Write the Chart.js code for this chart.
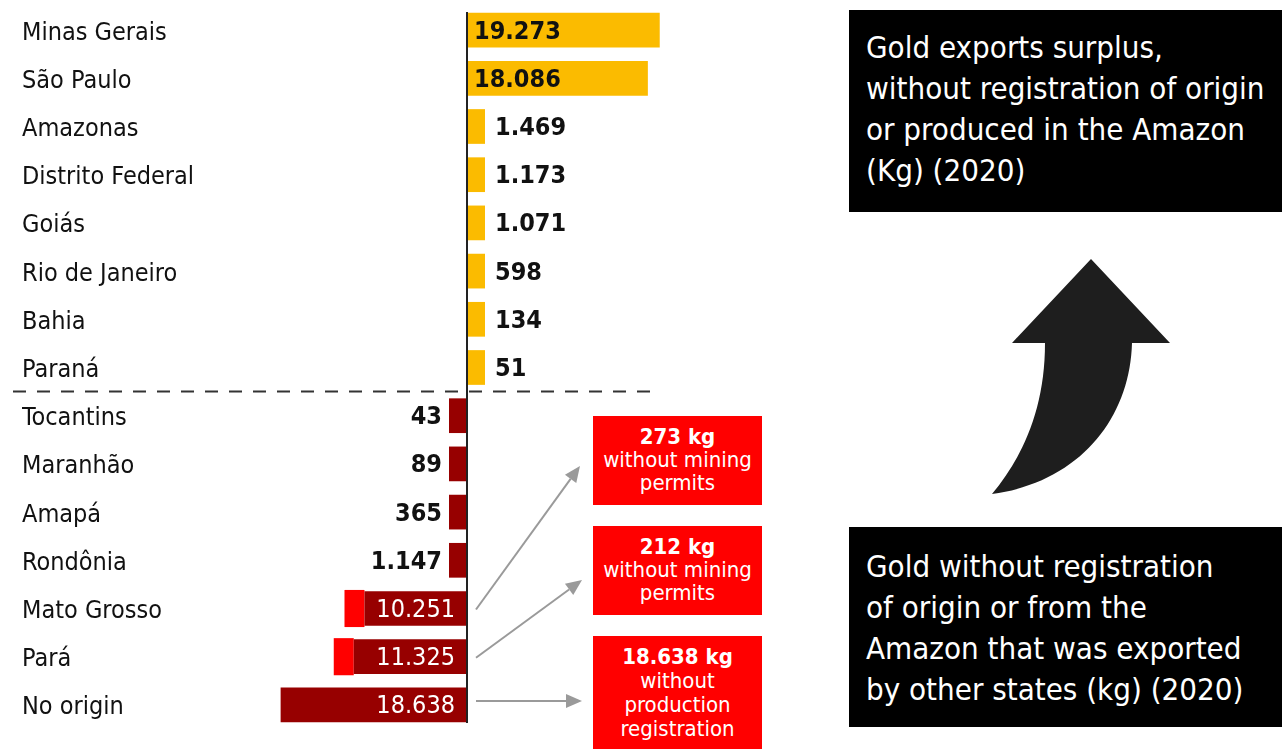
<!DOCTYPE html>
<html>
<head>
<meta charset="utf-8">
<script src="https://cdn.jsdelivr.net/npm/chart.js@4/dist/chart.umd.min.js"></script>
<style>
  html, body { margin: 0; padding: 0; background: #fff; overflow: hidden; }
  body { width: 1282px; height: 749px; position: relative; font-family: 'Liberation Sans Narrow', 'DejaVu Sans Condensed', Roboto, sans-serif; }
  .chart-wrap { position: absolute; left: 0; top: 0; width: 690px; height: 749px; }
  .note-black { position: absolute; left: 849px; width: 416px; background: #000; color: #fff;
    font-size: 31px; line-height: 41px; padding-left: 17px; box-sizing: content-box; }
  .note-red { position: absolute; left: 593px; width: 169px; background: #ff0000; color: #fff;
    font-size: 22px; line-height: 23px; text-align: center; }
  .note-red b { font-weight: bold; }
  svg.deco { position: absolute; left: 0; top: 0; pointer-events: none; }
</style>
</head>
<body>
<div class="chart-wrap"><canvas id="chart-gold"></canvas></div>

<div class="note-black" style="top:10px;height:185px;padding-top:17px">Gold exports surplus,<br>without registration of origin<br>or produced in the Amazon<br>(Kg) (2020)</div>
<div class="note-black" style="top:527px;height:181px;padding-top:19px">Gold without registration<br>of origin or from the<br>Amazon that was exported<br>by other states (kg) (2020)</div>

<div class="note-red" style="top:416px;height:80px;padding-top:9px"><b>273 kg</b><br>without mining<br>permits</div>
<div class="note-red" style="top:526px;height:80px;padding-top:9px"><b>212 kg</b><br>without mining<br>permits</div>
<div class="note-red" style="top:636px;height:104px;padding-top:9px;line-height:24px"><b>18.638 kg</b><br>without<br>production<br>registration</div>

<svg class="deco" width="1282" height="749">
  <path d="M1012 343 L1091 259 L1170 343 L1132 343 C1130 418 1080 482 992 494 C1022 458 1045 410 1045 343 Z" fill="#1e1e1e"/>
</svg>

<script>
const states = ['Minas Gerais', 'São Paulo', 'Amazonas', 'Distrito Federal', 'Goiás', 'Rio de Janeiro', 'Bahia', 'Paraná',
  'Tocantins', 'Maranhão', 'Amapá', 'Rondônia', 'Mato Grosso', 'Pará', 'No origin']
// kg, positive = surplus exported, negative = gold that left the state without origin
const surplusKg = [19273, 18086, 1469, 1173, 1071, 598, 134, 51, -43, -89, -365, -1147, -10251, -11325, -18638]
const noPermitKg = [null, null, null, null, null, null, null, null, null, null, null, null, -273, -212, null]
const lastSurplusIdx = 7

const FONT = "'Liberation Sans Narrow', 'DejaVu Sans Condensed', Roboto, sans-serif"
const fmt = v => Math.abs(v).toLocaleString('de-DE')

const annotPlugin = {
  id: 'annot',
  afterDatasetsDraw(chart) {
    const { ctx, scales: { x, y } } = chart
    const zero = x.getPixelForValue(0)
    const meta = chart.getDatasetMeta(0)

    // value labels
    ctx.save()
    ctx.textBaseline = 'middle'
    meta.data.forEach((bar, i) => {
      const v = surplusKg[i]
      const len = Math.abs(bar.x - bar.base)
      const txt = fmt(v)
      const ty = bar.y + 2
      if (v > 0) {
        ctx.font = 'bold 25px ' + FONT
        ctx.fillStyle = '#111'
        ctx.textAlign = 'left'
        if (len > 100) ctx.fillText(txt, zero + 7, ty)
        else ctx.fillText(txt, bar.x + 10, ty)
      } else {
        ctx.textAlign = 'right'
        if (len > 90) {
          ctx.font = '25px ' + FONT
          ctx.fillStyle = '#fff'
          ctx.fillText(txt, zero - 12, ty)
        } else {
          ctx.font = 'bold 25px ' + FONT
          ctx.fillStyle = '#111'
          ctx.fillText(txt, bar.x - 7, ty)
        }
      }
    })
    ctx.restore()

    // zero line
    ctx.save()
    ctx.strokeStyle = '#222'
    ctx.lineWidth = 2
    ctx.beginPath()
    ctx.moveTo(zero, 12)
    ctx.lineTo(zero, 723)
    ctx.stroke()

    // dashed separator between the two groups
    const sepY = (y.getPixelForValue(lastSurplusIdx) + y.getPixelForValue(lastSurplusIdx + 1)) / 2
    ctx.setLineDash([13, 11])
    ctx.strokeStyle = '#333'
    ctx.beginPath()
    ctx.moveTo(13, sepY)
    ctx.lineTo(656, sepY)
    ctx.stroke()
    ctx.restore()

    // grey pointers to the red notes
    const pointers = [[12, 580, 466], [13, 582, 580], [14, 582, 701]]
    ctx.save()
    ctx.strokeStyle = '#9a9a9a'
    ctx.fillStyle = '#9a9a9a'
    ctx.lineWidth = 2
    pointers.forEach(([idx, tx, ty]) => {
      const sx = zero + 9
      const sy = y.getPixelForValue(idx) + (idx === 14 ? -4 : 1)
      const ang = Math.atan2(ty - sy, tx - sx)
      const hl = 16, hw = 7
      const bx = tx - hl * Math.cos(ang), by = ty - hl * Math.sin(ang)
      ctx.beginPath()
      ctx.moveTo(sx, sy)
      ctx.lineTo(bx, by)
      ctx.stroke()
      ctx.beginPath()
      ctx.moveTo(tx, ty)
      ctx.lineTo(bx + hw * Math.sin(ang), by - hw * Math.cos(ang))
      ctx.lineTo(bx - hw * Math.sin(ang), by + hw * Math.cos(ang))
      ctx.closePath()
      ctx.fill()
    })
    ctx.restore()
  }
}

new Chart(document.getElementById('chart-gold'), {
  type: 'bar',
  data: {
    labels: states,
    datasets: [
      {
        data: surplusKg,
        backgroundColor: surplusKg.map(v => v > 0 ? '#fbbb00' : '#970000'),
        borderWidth: 0,
        barPercentage: 0.72,
        categoryPercentage: 1,
        minBarLength: 18
      },
      {
        data: noPermitKg,
        backgroundColor: '#ff0000',
        borderWidth: 0,
        barPercentage: 0.77,
        categoryPercentage: 1,
        minBarLength: 20
      }
    ]
  },
  options: {
    indexAxis: 'y',
    responsive: true,
    maintainAspectRatio: false,
    animation: false,
    layout: { padding: { left: 22, right: 13, top: 6, bottom: 20 } },
    plugins: { legend: { display: false }, tooltip: { enabled: false } },
    scales: {
      x: { display: false, stacked: true, min: -19000, max: 21000 },
      y: {
        stacked: true,
        grid: { display: false, drawTicks: false },
        border: { display: false },
        ticks: { crossAlign: 'far', color: '#111', font: { size: 25, family: FONT }, padding: 0, labelOffset: 3 },
        afterFit: s => { s.width = 255; s.paddingTop = 0; s.paddingBottom = 0 }
      }
    }
  },
  plugins: [annotPlugin]
})
</script>
</body>
</html>
